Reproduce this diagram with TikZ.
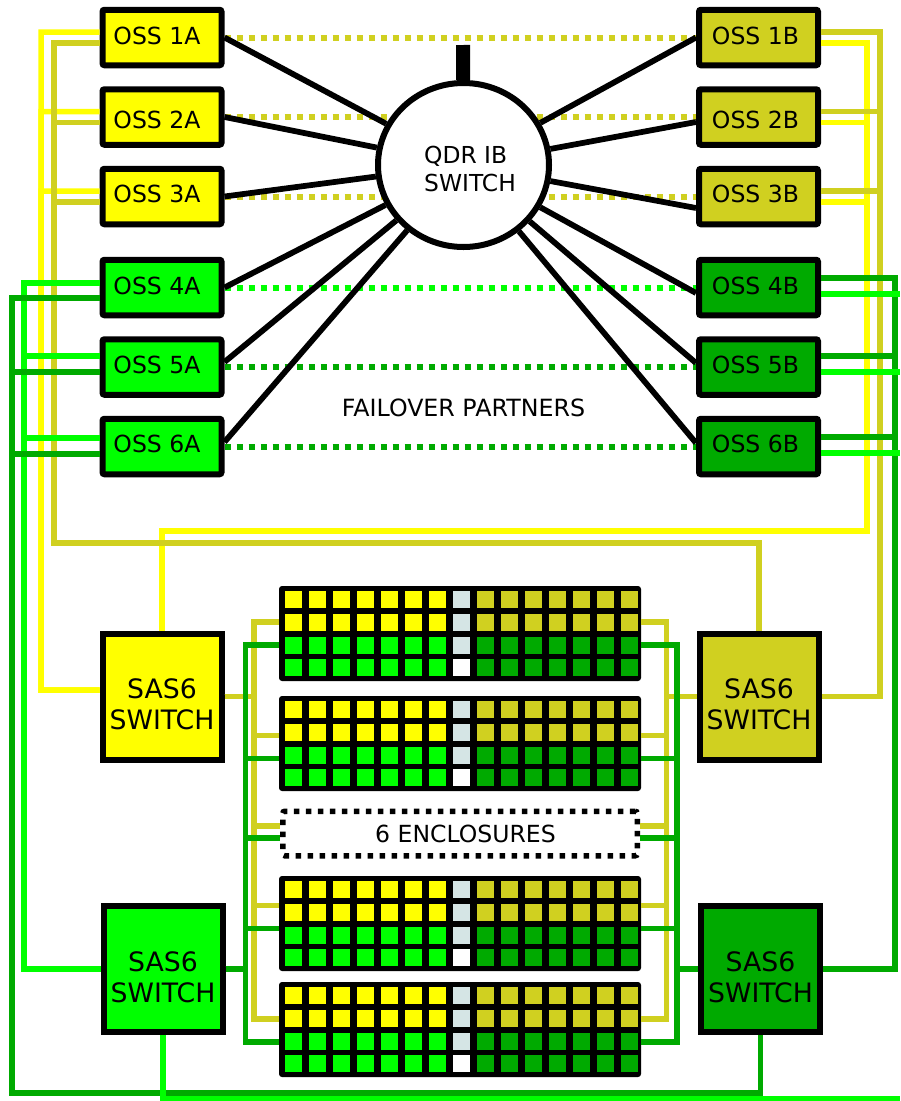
\documentclass[tikz,border=0pt]{standalone}
\usepackage{xcolor}
\usepackage{fontspec}
\setmainfont{DejaVu Sans}
\usepackage{tikz}
\usetikzlibrary{positioning,backgrounds,shapes.geometric}
\definecolor{ossyellow}{HTML}{FFFF00}
\definecolor{ossolive}{HTML}{D0D020}
\definecolor{osslime}{HTML}{00FF00}
\definecolor{ossgreen}{HTML}{00AA00}
\definecolor{cellpale}{HTML}{D5E5E5}
\newcommand{\osslabel}[2]{\raisebox{#1}[0pt][0pt]{#2}}
\newcommand{\saslabel}{\rule{0pt}{7.2mm}SAS6\\SWITCH}
\begin{document}
\begin{tikzpicture}[
        x=0.2mm, y=-0.2mm,
        ossbox/.style={draw, rectangle, rounded corners=0.4mm, line width=1.2mm, inner sep=0pt,
            minimum width=23.8mm, minimum height=11.1mm, font=\fontsize{13.4pt}{16pt}\selectfont},
        ossleft/.style={ossbox, execute at end node={\kern 2mm}},
        ossright/.style={ossbox, execute at end node={\kern 1.2mm}},
        sasbox/.style={draw, rectangle, line width=1.2mm, inner sep=0pt, align=center,
            minimum width=23.8mm, minimum height=25.2mm, font=\fontsize{15.2pt}{17.6pt}\selectfont},
        ibswitch/.style={draw, ellipse, line width=1.2mm, fill=white, inner sep=0pt,
            minimum width=34.2mm, minimum height=32.8mm},
        plaintext/.style={inner sep=0pt, font=\fontsize{13.3pt}{16pt}\selectfont},
        enclosure/.style={fill=black, rectangle, rounded corners=0.6mm, inner sep=0pt, outer sep=0pt,
            minimum width=72.4mm, minimum height=19mm},
        dotsbox/.style={draw, rectangle, rounded corners=0.4mm, line width=1.1mm, inner sep=0pt,
            dash pattern=on 1.1mm off 1.3mm, minimum width=70.9mm, minimum height=8.9mm,
            font=\fontsize{13.4pt}{16pt}\selectfont, execute at begin node={\kern 2.2mm}},
        cellbox/.style={rectangle, inner sep=0pt, outer sep=0pt, minimum width=3.5mm, minimum height=3.4mm},
        ibwire/.style={draw, line width=1.15mm},
        wire/.style={draw=#1, line width=1.1mm},
        partner/.style={draw=#1, line width=1.2mm, dash pattern=on 1.2mm off 1.2mm}
    ]
        \useasboundingbox (0,0) rectangle (900,1101);

        \node[ossleft, fill=ossyellow] (oss1a) at (162,37.5) {\osslabel{-1.42mm}{OSS 1A}};
        \node[ossleft, fill=ossyellow, below=3.6mm of oss1a] (oss2a) {\osslabel{-2.32mm}{OSS 2A}};
        \node[ossleft, fill=ossyellow, below=3.6mm of oss2a] (oss3a) {\osslabel{-1.12mm}{OSS 3A}};
        \node[ossleft, fill=osslime, below=5.9mm of oss3a] (oss4a) {\osslabel{-1.42mm}{OSS 4A}};
        \node[ossleft, fill=osslime, below=3.6mm of oss4a] (oss5a) {\osslabel{-1.32mm}{OSS 5A}};
        \node[ossleft, fill=osslime, below=3.6mm of oss5a] (oss6a) {\osslabel{-1.22mm}{OSS 6A}};
        \node[ossright, fill=ossolive, right=94.3mm of oss1a] (oss1b) {\osslabel{-1.42mm}{OSS 1B}};
        \node[ossright, fill=ossolive, below=3.6mm of oss1b] (oss2b) {\osslabel{-2.32mm}{OSS 2B}};
        \node[ossright, fill=ossolive, below=3.6mm of oss2b] (oss3b) {\osslabel{-1.12mm}{OSS 3B}};
        \node[ossright, fill=ossgreen, below=5.9mm of oss3b] (oss4b) {\osslabel{-1.42mm}{OSS 4B}};
        \node[ossright, fill=ossgreen, below=3.6mm of oss4b] (oss5b) {\osslabel{-1.32mm}{OSS 5B}};
        \node[ossright, fill=ossgreen, below=3.6mm of oss5b] (oss6b) {\osslabel{-1.22mm}{OSS 6B}};

        \node[ibswitch] (qdr) at (463.5,165) {};
        \node[plaintext, align=left] (qdrtext) at (470,169) {QDR IB\\SWITCH};
        \node[plaintext, font=\fontsize{13.5pt}{16pt}\selectfont] (failover) at (463.5,408) {FAILOVER PARTNERS};

        \node[sasbox, fill=ossyellow] (sasya) at (162,696.5) {\saslabel};
        \node[sasbox, fill=ossolive] (sasol) at (759,696.5) {\saslabel};
        \node[sasbox, fill=osslime] (sasli) at (163,969) {\saslabel};
        \node[sasbox, fill=ossgreen] (sasgr) at (760.5,969) {\saslabel};

        \node[enclosure] (enca) at (460,633.5) {};
        \node[enclosure, below=3mm of enca] (encb) {};
        \node[dotsbox, below=3.5mm of encb] (encdots) {6 ENCLOSURES};
        \node[enclosure, below=3.5mm of encdots] (encc) {};
        \node[enclosure, below=2.2mm of encc] (encd) {};

        \foreach \en in {enca,encb,encc,encd}
            \foreach \cfirst/\clast/\rfirst/\rlast/\colr in {0/6/0/1/ossyellow,0/6/2/3/osslime,7/7/0/2/cellpale,7/7/3/3/white,8/14/0/1/ossolive,8/14/2/3/ossgreen}
                \foreach \cx in {\cfirst,...,\clast}
                    \foreach \ry in {\rfirst,...,\rlast}
                        \node[cellbox, fill=\colr] (\en-\cx-\ry) at ([xshift={2.86mm+\cx*4.8mm}, yshift={-2.75mm-\ry*4.53mm}]\en.north west) {};

        \begin{scope}[on background layer]
            \foreach \row/\colr in {1/ossolive,2/ossolive,3/ossolive,4/osslime,5/ossgreen,6/ossgreen}
                \draw[partner=\colr] (oss\row a) -- (oss\row b);
        \end{scope}

        \coordinate (stubtop) at (463,45);
        \draw[line width=2.8mm] (qdr) -- (stubtop);
        \foreach \oss/\dy in {oss1a/0,oss2a/0,oss3a/0,oss4a/0,oss5a/1,oss6a/0.9}
            \draw[ibwire] ([yshift=\dy mm]\oss.east) -- (qdr);
        \foreach \oss/\dy in {oss1b/0,oss2b/-1,oss3b/-2.3,oss4b/-1.1,oss5b/0.8,oss6b/0.7}
            \draw[ibwire] ([yshift=\dy mm]\oss.west) -- (qdr);

        \coordinate (yelwest) at (41,690);
        \coordinate (yeleast) at (867,531);
        \coordinate (oliwest) at (54,543);
        \coordinate (olieast) at (880,696.5);
        \coordinate (limwest) at (24,969);
        \coordinate (grnwest) at (12,1093);
        \coordinate (grneast) at (895,969);
        \coordinate (limout) at (900,1099);

        \foreach \oss in {oss1a,oss2a,oss3a}
            \draw[wire=ossyellow] ([yshift=1.1mm]\oss.west) -| (yelwest) -- ([yshift=1.3mm]sasya.west);
        \foreach \oss in {oss1b,oss2b,oss3b}
            \draw[wire=ossyellow] ([yshift=-1.1mm]\oss.east) -| (yeleast) -| (sasya.north);
        \foreach \oss in {oss1a,oss2a,oss3a}
            \draw[wire=ossolive] ([yshift=-1.1mm]\oss.west) -| (oliwest) -| (sasol.north);
        \foreach \oss in {oss1b,oss2b,oss3b}
            \draw[wire=ossolive] ([yshift=1.1mm]\oss.east) -| (olieast) -- (sasol.east);

        \foreach \en/\ya in {enca/622,encb/735.5,encdots/826,encc/905.5,encd/1019}{
            \draw[wire=ossolive] (sasya.east) -- (254,696.5) |- (\en.west |- 0,\ya);
            \draw[wire=ossolive] (sasol.west) -- (666.5,696.5) |- (\en.east |- 0,\ya);
        }
        \foreach \en/\yb in {enca/645,encb/758.5,encdots/838,encc/928.5,encd/1042}{
            \draw[wire=ossgreen] (sasli.east) -- (245.5,969) |- (\en.west |- 0,\yb);
            \draw[wire=ossgreen] (sasgr.west) -- (677,969) |- (\en.east |- 0,\yb);
        }

        \foreach \oss/\dy in {oss4a/0.9,oss5a/2.2,oss6a/1.7}
            \draw[wire=osslime] ([yshift=\dy mm]\oss.west) -| (limwest) -- (sasli.west);
        \foreach \oss/\dy in {oss4a/-2.1,oss5a/-1,oss6a/-1.5}
            \draw[wire=ossgreen] ([yshift=\dy mm]\oss.west) -| (grnwest) -| (sasgr.south);
        \foreach \oss/\dy in {oss4b/1.9,oss5b/2.2,oss6b/1.9}
            \draw[wire=ossgreen] ([yshift=\dy mm]\oss.east) -| (grneast) -- (sasgr.east);
        \foreach \oss/\dy in {oss4b/-1.3,oss5b/-1,oss6b/-1.3}
            \draw[wire=osslime] ([yshift=\dy mm]\oss.east) -- ([yshift=\dy mm]\oss.east -| limout);
        \draw[wire=osslime] (sasli.south) |- (limout);
    \end{tikzpicture}
\end{document}
